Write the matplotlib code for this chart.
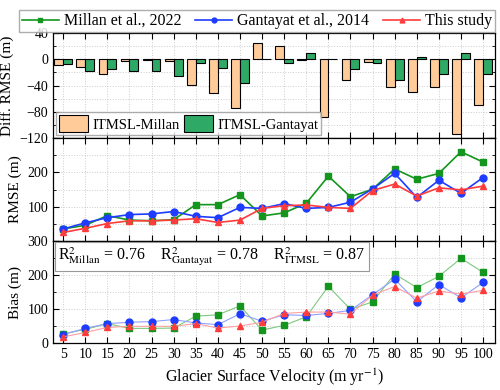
import numpy as np
import matplotlib.pyplot as plt
from matplotlib.ticker import MultipleLocator

plt.rcParams['font.family'] = ['Liberation Serif', 'DejaVu Serif']
plt.rcParams['mathtext.fontset'] = 'stix'

velocity = [5, 10, 15, 20, 25, 30, 35, 40, 45, 50, 55, 60, 65, 70, 75, 80, 85, 90, 95, 100]

# Diff. RMSE bars
diff_millan = [-9, -11, -22, -2, -1, -2, -39, -51, -74, 25, 21, -1, -88, -31, -4, -42, -49, -42, -114, -70]
diff_gantayat = [-7, -17, -15, -17, -18, -25, -5, -13, -36, 0.5, -6, 9, 0.5, -15, -6, -31, 4, -22, 9, -23]

# RMSE
rmse_millan = [35, 46, 74, 61, 59, 62, 106, 106, 135, 73, 82, 110, 189, 129, 151, 210, 180, 197, 260, 230]
rmse_gantayat = [35, 53, 68, 77, 79, 86, 72, 68, 98, 95, 109, 95, 98, 113, 152, 197, 127, 177, 139, 185]
rmse_itmsl = [25, 37, 51, 59, 59, 61, 65, 54, 61, 95, 103, 105, 98, 95, 147, 166, 131, 155, 149, 160]

# Bias
bias_millan = [27, 40, 57, 43, 43, 44, 79, 83, 109, 38, 52, 77, 167, 99, 121, 203, 163, 196, 249, 208]
bias_gantayat = [25, 43, 57, 61, 63, 69, 59, 54, 86, 64, 83, 81, 87, 96, 142, 188, 121, 172, 133, 178]
bias_itmsl = [18, 31, 46, 49, 49, 49, 57, 44, 50, 61, 87, 91, 91, 85, 141, 166, 132, 153, 144, 155]

c_green = '#14961e'
c_blue = '#1e3cff'
c_red = '#ff3c3c'
c_bar1 = '#ffcc99'
c_bar2 = '#2eaa66'

fig = plt.figure(figsize=(5, 3.9), dpi=100)
ax1 = fig.add_axes([0.106, 0.646, 0.884, 0.269])
ax2 = fig.add_axes([0.106, 0.382, 0.884, 0.264])
ax3 = fig.add_axes([0.106, 0.1205, 0.884, 0.2615])

x = np.array(velocity)

# top: bars
ax1.bar(x - 1, diff_millan, width=2, color=c_bar1, edgecolor='black', linewidth=0.8, label='ITMSL-Millan')
ax1.bar(x + 1, diff_gantayat, width=2, color=c_bar2, edgecolor='black', linewidth=0.8, label='ITMSL-Gantayat')
ax1.set_ylim(-120, 40)
ax1.set_yticks([-120, -80, -40, 0, 40])
ax1.yaxis.set_minor_locator(MultipleLocator(20))
ax1.set_ylabel('Diff. RMSE (m)', fontsize=11)
ax1.legend(loc='lower left', ncol=2, fontsize=10.5, handlelength=2.0, handleheight=1.4,
           columnspacing=0.3, handletextpad=0.3, borderaxespad=0.2, borderpad=0.2,
           fancybox=False, edgecolor='#999999')

# middle: RMSE
l1, = ax2.plot(x, rmse_millan, color=c_green, marker='s', markersize=5, linewidth=1.2, label='Millan et al., 2022')
l2, = ax2.plot(x, rmse_gantayat, color=c_blue, marker='o', markersize=5, linewidth=1.2, label='Gantayat et al., 2014')
l3, = ax2.plot(x, rmse_itmsl, color=c_red, marker='^', markersize=5, linewidth=1.2, label='This study')
ax2.set_ylim(0, 300)
ax2.set_yticks([0, 100, 200, 300])
ax2.set_yticklabels(['', '100', '200', ''])
ax2.yaxis.set_minor_locator(MultipleLocator(50))
ax2.set_ylabel('RMSE (m)', fontsize=11)

# bottom: Bias (pale lines, solid markers)
ax3.plot(x, bias_millan, color='#7fc87f', marker='s', markersize=5, linewidth=0.8,
         markerfacecolor=c_green, markeredgecolor=c_green)
ax3.plot(x, bias_gantayat, color='#8fa0ff', marker='o', markersize=5, linewidth=0.8,
         markerfacecolor=c_blue, markeredgecolor=c_blue)
ax3.plot(x, bias_itmsl, color='#ffa0a0', marker='^', markersize=5, linewidth=0.8,
         markerfacecolor=c_red, markeredgecolor=c_red)
ax3.set_ylim(0, 300)
ax3.set_yticks([0, 100, 200, 300])
ax3.yaxis.set_minor_locator(MultipleLocator(50))
ax3.set_ylabel('Bias (m)', fontsize=11)
ax3.set_xlabel('Glacier Surface Velocity (m yr$^{-1}$)', fontsize=11.5)
ax3.text(0.012, 0.96,
         r'R$^2_{\mathrm{Millan}}$ = 0.76    R$^2_{\mathrm{Gantayat}}$ = 0.78    R$^2_{\mathrm{ITMSL}}$ = 0.87',
         transform=ax3.transAxes, ha='left', va='top', fontsize=11.5,
         bbox=dict(boxstyle='square,pad=0.2', facecolor='white', edgecolor='#999999', linewidth=0.8))

for ax in (ax1, ax2, ax3):
    ax.set_xlim(2.7, 102.7)
    ax.set_xticks(velocity)
    ax.tick_params(which='both', direction='in', top=True, right=True, labelsize=10)
    ax.tick_params(which='major', length=4)
    ax.tick_params(which='minor', length=2)
    ax.grid(True, which='both', linestyle=':', color='#cccccc', linewidth=0.7)
    ax.set_axisbelow(True)
    for s in ax.spines.values():
        s.set_linewidth(0.9)
    if ax is not ax3:
        ax.tick_params(labelbottom=False)

fig.legend(handles=[l1, l2, l3], loc='upper center', bbox_to_anchor=(0.514, 0.995), ncol=3,
           fontsize=11.5, handlelength=2.3, columnspacing=0.9, handletextpad=0.3,
           borderpad=0.2, fancybox=False, edgecolor='#999999', markerscale=0.7)

fig.align_ylabels([ax1, ax2, ax3])
fig.savefig('out.png', dpi=100)
